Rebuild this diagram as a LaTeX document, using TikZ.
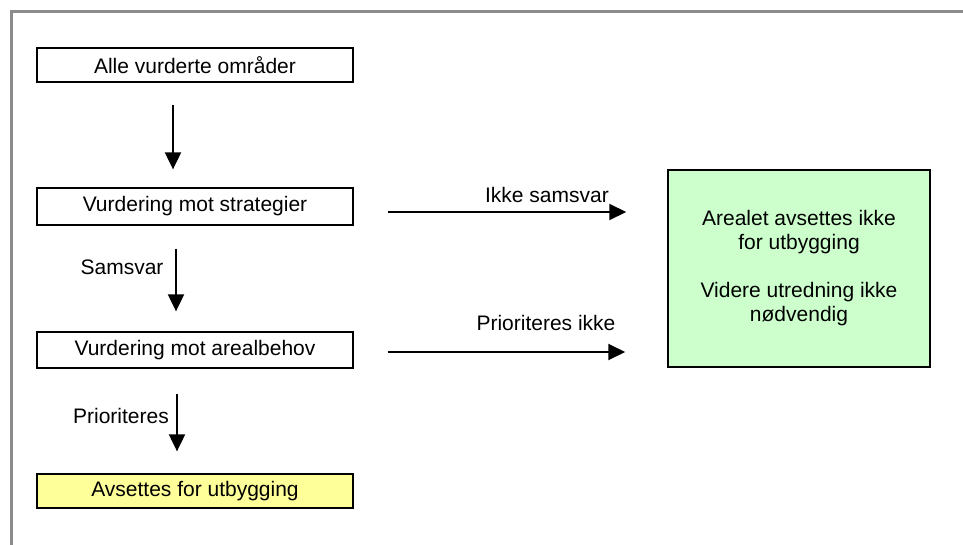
\documentclass[tikz,border=0pt]{standalone}
\usepackage{fontspec}
\setmainfont{Liberation Sans}
\usetikzlibrary{arrows.meta,calc}
\definecolor{framegray}{HTML}{8C8C8C}
\definecolor{boxgreen}{HTML}{CCFFCC}
\definecolor{boxyellow}{HTML}{FFFF99}
\tikzset{
  stepbox/.style={draw=black, line width=1.3pt, minimum width=316pt, inner sep=0pt, font=\fontsize{21}{24}\selectfont},
  lbl/.style={inner sep=0pt, font=\fontsize{21}{24}\selectfont},
  arr/.style={line width=2pt, -{Triangle[length=17pt,width=16pt]}}
}
\begin{document}
\begin{tikzpicture}[x=1pt,y=-1pt]
\useasboundingbox (0,0) rectangle (963,544);
\fill[white] (0,0) rectangle (963,544);
\draw[framegray, line width=3pt] (11,550) -- (11,11) -- (970,11);

\node[stepbox, minimum height=34pt] (a) at (195,65) {Alle vurderte områder};
\node[stepbox, minimum height=37pt] (b) at (195,206.5) {Vurdering mot strategier};
\node[stepbox, minimum height=36pt] (c) at (195,350) {Vurdering mot arealbehov};
\node[stepbox, minimum height=34pt, fill=boxyellow] (d) at (195,491) {Avsettes for utbygging};
\node[draw=black, line width=1.5pt, fill=boxgreen, minimum width=262pt, minimum height=197pt,
      align=center, font=\fontsize{21}{24}\selectfont] (g) at (799,268.5)
      {Arealet avsettes ikke\\for utbygging\\[24pt]Videre utredning ikke\\nødvendig};

\draw[arr] ([xshift=-22pt,yshift=-22pt]a.south) -- ([xshift=-22pt,yshift=18pt]b.north);
\draw[arr] ([xshift=-19pt,yshift=-23pt]b.south) -- ([xshift=-19pt,yshift=20pt]c.north);
\draw[arr] ([xshift=-18pt,yshift=-25pt]c.south) -- ([xshift=-18pt,yshift=22pt]d.north);

\coordinate (s1) at ([xshift=34pt,yshift=-5.5pt]b.east);
\coordinate (s2) at ([xshift=34pt,yshift=-2pt]c.east);
\draw[arr] (s1) -- ($(g.west |- s1)+(-41,0)$);
\draw[arr] (s2) -- ($(g.west |- s2)+(-42,0)$);

\node[lbl] (l1) at (122,267) {Samsvar};
\node[lbl] (l2) at (121,416) {Prioriteres};
\node[lbl] (l3) at (547,195) {Ikke samsvar};
\node[lbl] (l4) at (546,323) {Prioriteres ikke};
\end{tikzpicture}
\end{document}
